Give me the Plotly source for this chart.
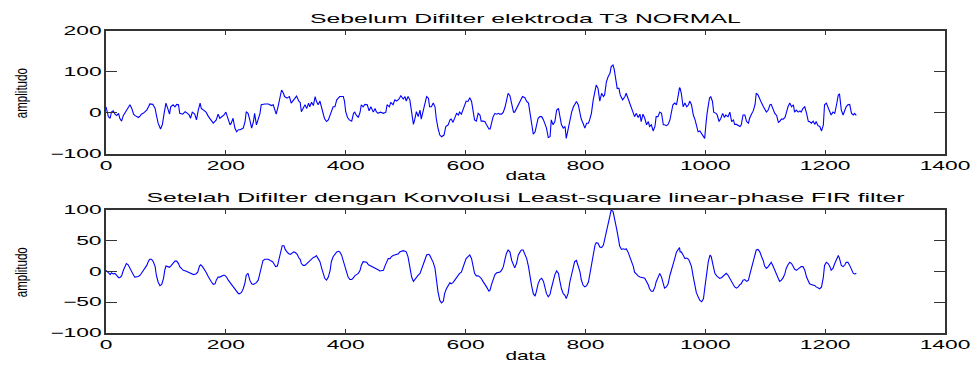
import plotly.graph_objects as go

# ---------------- data ----------------
# top panel: raw signal (sample index, amplitude)
raw_x_a = [0,4,7,9,12,15,18,21,23,26,29,32,34,40,43,46,48,51,54,57,59,62,68,71,73,78,82,84,87,91,
           94,97,100,103,106,108,112,115,118,121,123,128,132,136,139,141,144,148,151,154,157,159,162,167,171,176,179,184,187,190,
           193,197,200,204,207,209,212,215,218,221,224,229,232,234,237,240,243,246,248,251,254,257,259,265,271,276,279,282,284,287,
           290,293,296,298,302,306,309,312,318,322]
raw_y_a = [15,-9,-13,2,5,-3,-6,-1,-13,-20,-6,2,7,20,11,-3,-6,-9,-11,-7,-3,-1,7,15,22,21,11,-5,-25,-39,
           -29,-1,24,11,-3,15,20,15,21,20,-1,-3,3,-1,-5,-13,2,-3,-17,7,24,11,7,2,-9,-21,-25,-17,-3,-13,
           -9,-5,2,-13,-29,-25,-13,-37,-46,-41,-41,-37,-21,3,-1,-17,-37,-21,-1,-29,-17,-1,20,22,22,18,20,2,-3,15,
           36,56,48,40,36,40,24,29,41,28]
raw_x_b = [324,326,329,332,335,338,340,343,346,349,351,354,357,360,363,365,368,371,374,376,
           379,382,385,388,390,396,398,400,403,406,410,413,415,418,421,424,426,429,432,436,
           439,442,446,449,451,454,458,463,467,469,473,475,479,482,485,489,492,496,499,501,
           504,507,510,513,515,518,521,524,526,529,532,535,538,540,543,546,549,551,554,557,
           560,564,567,571,574,576,579,582,585,588,590,593,596,599,601,604,607,610,613,615,
           618,621,624,626,629,632,635,639]
raw_y_b = [26,3,11,20,11,24,15,26,18,40,29,20,29,15,-5,-15,-21,-17,-5,7,
           15,15,32,37,40,40,28,3,-11,-17,-20,-1,2,-6,-11,2,20,15,21,20,
           5,15,2,11,3,-1,2,-1,2,20,15,26,20,32,29,34,42,34,40,29,
           40,32,3,-28,-17,3,-9,7,-15,3,20,40,36,15,15,24,15,-13,-37,-54,
           -58,-54,-33,-29,-17,-15,-23,-13,-1,-5,2,-3,11,20,29,28,37,28,2,-17,
           -20,-1,-5,-20,-20,-21,-29,-39]
raw_x_c = [641,643,646,649,652,655,657,660,663,666,668,671,674,677,680,682,685,688,691,695,
           699,702,705,707,710,713,716,718,721,724,727,730,732,735,738,741,743,746,749,752,
           755,757,760,763,766,768,771,774,777,780,782,785,788,791,793,796,799,802,805,807,
           810,813,816,818,821,824,827,830,832,835,838,841,843,846,848,851,853,856,858,862,
           866,868,871,874,877,880,882,885,888,891,893,896,899,902,905,907,910,913,916,918,
           921,924,927,930,932,935,938,941,943,946,949,952,955,957]
raw_y_c = [-39,-29,-9,-1,-3,-1,-3,-3,2,15,32,48,42,24,2,2,11,20,32,40,
           37,28,24,2,-29,-52,-46,-33,-13,-9,-9,-17,-25,-37,-60,-58,-17,-29,-21,7,
           11,-5,-29,-37,-33,-62,-41,-17,2,15,20,28,20,-1,-15,-25,-37,-25,-25,-17,
           -1,32,52,68,60,29,48,40,44,76,89,97,113,117,107,84,60,60,44,32,
           40,48,36,28,15,3,-9,-1,-11,-3,-21,-3,-13,-29,-21,-33,-29,-44,-33,-9,
           -9,2,-1,-29,-29,-31,-28,-17,-3,20,24,20,44,62]
raw_x_d = [958,960,963,966,969,972,974,977,980,983,985,988,991,994,997,999,1001,1003,1007,1009,
           1012,1014,1018,1020,1023,1026,1029,1032,1034,1038,1041,1044,1047,1049,1052,1055,1058,1060,1063,1066,
           1069,1072,1074,1077,1080,1083,1085,1088,1091,1094,1097,1099,1102,1105,1108,1110,1113,1116,1119,1122,
           1124,1127,1130,1133,1135,1138,1141,1144,1147,1149,1152,1155,1158,1160,1163,1166,1169,1172,1174,1177,
           1180,1183,1185,1188,1191,1194,1197,1199,1202,1205,1208,1210,1213,1216,1219,1222,1224,1227,1230,1233,
           1235,1238,1241,1244,1247,1249,1252]
raw_y_d = [60,48,15,24,15,20,29,20,-5,-17,-29,-46,-44,-50,-58,-62,-29,-1,36,40,
           28,2,-1,-5,-21,-13,-1,-11,-5,-9,2,-21,-17,-28,-28,-31,-33,-29,-5,-5,
           -21,-25,-13,-3,5,20,48,44,32,24,15,11,2,7,20,21,11,-1,-6,-23,
           -21,-15,-15,-11,-1,15,24,15,20,2,7,2,5,2,11,15,-1,-21,-21,-25,
           -20,-28,-21,-31,-33,-44,-29,20,24,11,3,-5,2,-1,20,44,46,7,-5,7,
           15,20,21,-1,-5,-1,-6]

# bottom panel: filtered signal
flt_x_a = [0,4,7,9,12,15,18,21,23,26,29,32,34,37,40,43,46,48,51,54,
           57,59,62,65,68,71,73,76,79,82,84,87,90,93,96,98,100,103,106,108,
           112,115,118,121,123,126,129,133,137,141,146,150,153,156,158,161,164,167,171,173,
           176,179,182,184,187,190,193,196,198,201,204,207,209,212,215,218,221,223,226,229,
           232,234,237,240,243,246,248,251,254,257,259,262,265,271,274,278,280,283,286,288,
           291,294,297,299,302,305,308,311,313,316,319,322]
flt_y_a = [2,-3,-5,-2,-4,-3,-6,-10,-10,-7,2,9,13,11,5,-2,-6,-9,-9,-8,
           -6,-3,1,5,10,17,20,20,16,8,-6,-17,-23,-21,-11,2,9,8,7,9,
           13,17,17,13,8,4,2,1,-1,-3,-5,-4,-1,9,11,8,4,-1,-9,-13,
           -17,-21,-20,-14,-9,-9,-7,-6,-6,-9,-14,-18,-21,-23,-28,-33,-36,-36,-34,-28,
           -18,-6,-3,-14,-20,-21,-20,-18,-14,-3,8,18,20,20,18,16,13,8,9,18,
           32,42,42,36,32,29,28,30,32,31,28,22]
flt_x_b = [324,326,329,332,335,338,340,343,346,349,351,354,357,360,363,365,368,371,374,376,
           379,382,385,388,390,393,396,399,401,404,407,410,413,415,418,421,424,426,429,432,
           435,438,440,443,446,449,451,454,457,460,463,465,468,471,474,476,479,482,485,488,
           490,493,496,499,501,504,507,510,513,515,518,521,524,526,529,532,535,538,540,543,
           546,549,551,554,557,560,563,565,568,571,574,576,579,582,585,588,590,593,596,599,
           601,604,607,610,613,615,618,621,624,626,629,632,635,639]
flt_y_b = [20,13,10,10,13,16,18,21,23,24,26,21,16,5,-3,-11,-14,-9,2,16,
           24,29,32,33,32,27,17,5,-3,-9,-13,-13,-10,-7,-5,-3,2,10,16,16,
           15,11,10,9,8,6,5,3,1,1,2,8,16,21,21,24,26,27,28,29,
           32,33,34,33,32,24,8,-9,-16,-13,-9,-6,-3,2,10,18,27,28,27,21,
           15,5,-14,-33,-47,-51,-48,-36,-28,-22,-18,-20,-18,-14,-9,-6,-3,-1,6,16,
           21,24,27,21,8,-3,-7,-7,-9,-11,-16,-20,-25,-32]
flt_x_c = [641,643,646,649,652,655,657,660,663,666,668,671,674,677,680,682,685,688,691,693,
           696,699,702,705,707,710,713,716,718,721,724,727,730,732,735,738,741,743,746,749,
           752,755,757,760,763,766,768,771,774,777,780,782,785,788,791,793,796,799,802,805,
           807,810,813,816,818,821,824,827,830,832,835,838,841,843,846,849,852,855,857,860,
           863,866,868,871,874,877,880,882,885,888,891,893,896,899,902,905,907,910,913,916,
           918,921,924,927,930,932,935,938,941,943,946,949,952,955,957]
flt_y_c = [-30,-22,-13,-5,-2,-2,-1,2,8,21,29,35,32,18,10,6,13,27,32,35,
           35,29,21,8,-6,-22,-36,-40,-33,-20,-13,-11,-16,-25,-36,-41,-37,-28,-17,-5,
           1,-3,-14,-28,-36,-39,-44,-36,-17,-3,8,16,18,10,-1,-13,-22,-25,-23,-17,
           -6,10,29,43,47,46,40,39,43,51,65,76,89,100,98,86,70,54,42,36,
           37,36,37,32,24,18,8,-1,-5,-7,-9,-9,-10,-11,-16,-22,-28,-32,-32,-25,
           -17,-9,-3,-9,-20,-27,-25,-20,-6,2,13,21,32,37,39]
flt_x_d = [958,960,963,966,969,972,974,977,980,983,985,988,991,994,997,999,1002,1005,1008,1010,
           1013,1016,1019,1022,1024,1027,1030,1033,1035,1038,1041,1044,1047,1049,1052,1055,1058,1060,1063,1066,
           1069,1072,1074,1077,1080,1083,1085,1088,1091,1094,1097,1099,1102,1105,1108,1110,1113,1116,1119,1122,
           1124,1127,1130,1133,1135,1138,1141,1144,1147,1149,1152,1155,1158,1160,1163,1166,1169,1172,1174,1177,
           1180,1183,1185,1188,1191,1194,1197,1199,1202,1205,1208,1210,1213,1216,1219,1222,1224,1227,1230,1233,
           1235,1238,1241,1244,1247,1249,1252]
flt_y_d = [32,32,27,21,22,20,16,8,-9,-22,-34,-41,-47,-49,-44,-28,-6,16,27,24,
           10,-3,-7,-10,-11,-10,-7,-5,-3,-6,-11,-17,-21,-25,-27,-25,-21,-20,-14,-13,
           -16,-14,-6,5,16,29,35,36,32,24,17,9,5,8,13,15,9,2,-6,-13,
           -16,-14,-10,-3,5,11,15,13,8,4,2,4,6,8,8,2,-9,-17,-20,-21,
           -22,-23,-25,-27,-28,-25,-9,10,15,13,8,2,5,13,21,26,21,10,8,11,
           15,15,10,4,-3,-4,-3]

x_ticks = [0, 200, 400, 600, 800, 1000, 1200, 1400]
y1_ticks = [-100, 0, 100, 200]
y2_ticks = [-100, -50, 0, 50, 100]

title_top = "Sebelum Difilter elektroda T3 NORMAL"
title_bottom = "Setelah Difilter dengan Konvolusi Least-square linear-phase FIR filter"
x_label = "data"
y_label = "amplitudo"

# ---------------- figure ----------------
raw_x = raw_x_a + raw_x_b + raw_x_c + raw_x_d
raw_y = raw_y_a + raw_y_b + raw_y_c + raw_y_d
flt_x = flt_x_a + flt_x_b + flt_x_c + flt_x_d
flt_y = flt_y_a + flt_y_b + flt_y_c + flt_y_d
assert len(raw_x) == len(raw_y) and len(flt_x) == len(flt_y)

BLUE = "#0000ff"
AX = "#333333"
FONT = "Liberation Sans, Arial, Helvetica, sans-serif"

fig = go.Figure()
fig.add_trace(go.Scatter(x=raw_x, y=raw_y, mode="lines", line=dict(color=BLUE, width=1.1),
                         xaxis="x", yaxis="y", showlegend=False, hoverinfo="skip"))
fig.add_trace(go.Scatter(x=flt_x, y=flt_y, mode="lines", line=dict(color=BLUE, width=1.1),
                         xaxis="x2", yaxis="y2", showlegend=False, hoverinfo="skip"))

common = dict(showline=True, linecolor=AX, linewidth=2, mirror="ticks", ticks="inside",
              tickcolor=AX, tickwidth=1, showgrid=False, zeroline=False,
              tickfont=dict(family=FONT, size=12, color="black"))

fig.update_layout(
    width=971, height=365,
    margin=dict(l=106, r=26, t=31, b=32),
    paper_bgcolor="white", plot_bgcolor="white",
    xaxis=dict(domain=[0, 1], anchor="y", range=[0, 1400], tickvals=x_ticks, ticklen=4, **common),
    yaxis=dict(domain=[0.593, 1], anchor="x", range=[-100, 200], tickvals=y1_ticks, ticklen=11, **common),
    xaxis2=dict(domain=[0, 1], anchor="y2", range=[0, 1400], tickvals=x_ticks, ticklen=4, **common),
    yaxis2=dict(domain=[0, 0.407], anchor="x2", range=[-100, 100], tickvals=y2_ticks, ticklen=11, **common),
)

ann_font = dict(family=FONT, size=13, color="black")
anns = [
    dict(text=title_top, x=0.5, y=1.043),
    dict(text=title_bottom, x=0.5, y=0.450),
    dict(text=x_label, x=0.5, y=0.523),
    dict(text=x_label, x=0.5, y=-0.073),
]
for a in anns:
    fig.add_annotation(xref="paper", yref="paper", xanchor="center", yanchor="middle",
                       showarrow=False, font=ann_font, **a)
for yy in (0.795, 0.202):
    fig.add_annotation(text=y_label, xref="paper", yref="paper", x=-0.1, y=yy,
                       xanchor="center", yanchor="middle", textangle=-90, showarrow=False,
                       font=dict(family=FONT, size=17, color="black"))

# the reference raster is stretched horizontally; widen the horizontal text the same way
post = """
document.body.style.margin='0';
var gd=document.getElementById('{plot_id}');
var texts=gd.querySelectorAll('g[class$="tick"] > text, text.annotation-text');
texts.forEach(function(t){
  var f=1.9;
  if(t.textContent==='data'){f=1.6;}
  if(t.textContent==='amplitudo'){f=0.68;}
  var w=t.getComputedTextLength();
  t.setAttribute('textLength', (w*f).toFixed(1));
  t.setAttribute('lengthAdjust','spacingAndGlyphs');
});
"""
fig.write_html("out.html", post_script=post, config={"displayModeBar": False})
